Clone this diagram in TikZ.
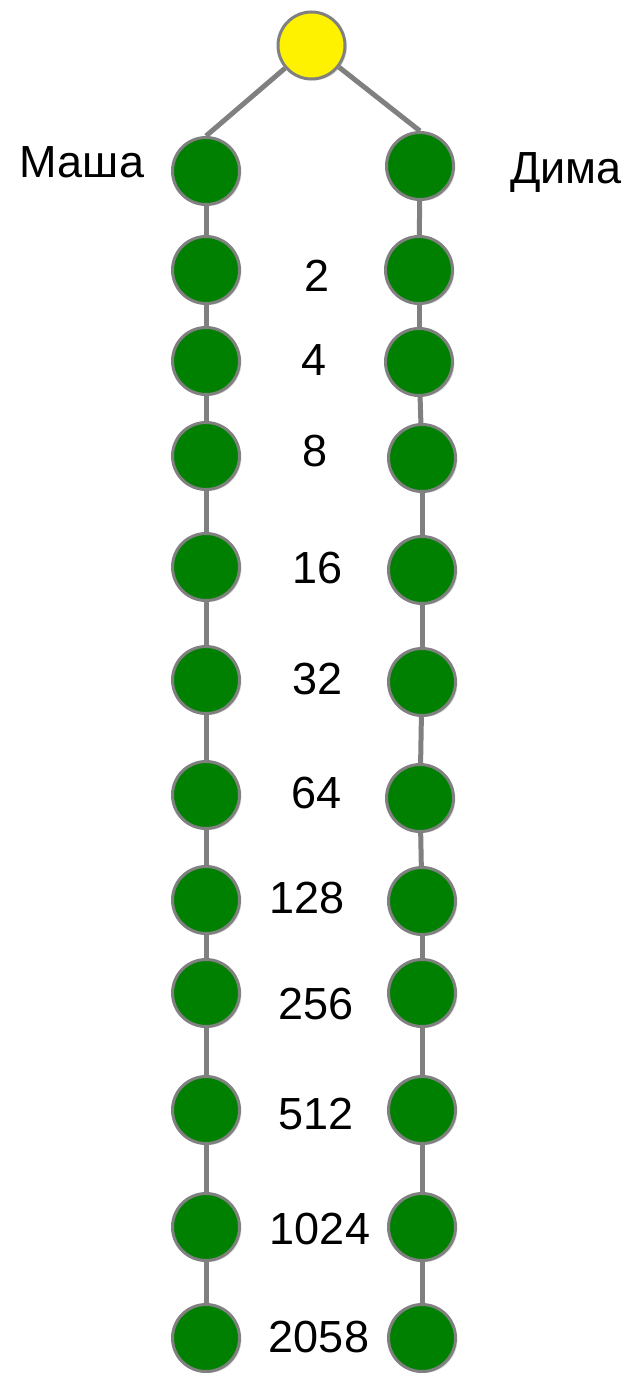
\documentclass[tikz,border=0pt]{standalone}
\usepackage{fontspec}
\setmainfont{Liberation Sans}
\usetikzlibrary{shadows,backgrounds}
\definecolor{ggreen}{RGB}{0,128,0}
\definecolor{gline}{RGB}{128,128,128}
\tikzset{
  ball/.style={circle, draw=gline, line width=3pt, minimum size=67pt, inner sep=0pt,
    fill=ggreen, drop shadow={opacity=0.25, shadow xshift=2pt, shadow yshift=-1.5pt}},
  topball/.style={ball, fill=yellow},
  conn/.style={draw=gline, line width=5pt},
  lbl/.style={anchor=base, inner sep=0pt, font=\fontsize{45}{54}\selectfont}
}
\begin{document}
\begin{tikzpicture}[x=1pt,y=-1pt]
\useasboundingbox (0,0) rectangle (629,1373);
\node[topball] (t) at (311.5,45.5) {};
% left column
\foreach \i/\y in {1/171,2/270,3/361,4/456,5/567,6/680,7/795,8/900,9/993,10/1110,11/1227,12/1338}
  \node[ball] (L\i) at (206,\y) {};
% right column
\foreach \i/\x/\y in {1/420/166,2/419/270,3/419/362,4/422/458,5/422/570,6/422/682,7/420/798,8/422/901,9/422/993,10/422/1110,11/422/1227,12/422/1338}
  \node[ball] (R\i) at (\x,\y) {};
\begin{pgfonlayer}{background}
  \draw[conn] (t) -- (L1.north);
  \draw[conn] (t) -- (R1.north);
  \foreach \i [evaluate=\i as \j using int(\i+1)] in {1,...,11} {
    \draw[conn] (L\i.center) -- (L\j.center);
    \draw[conn] (R\i.center) -- (R\j.center);
  }
\end{pgfonlayer}
\node[lbl] (masha) at (82,177) {Маша};
\node[lbl] (dima) at (566,183) {Дима};
\foreach \n/\x/\y in {2/317/275,4/314/359,8/315/450,16/318/567,32/318/678,64/317/792,128/307/897,256/316/1003,512/316/1113,1024/320/1228,2058/319/1336}
  \node[lbl] (n\n) at (\x,\y+16.5) {\n};
\end{tikzpicture}
\end{document}
